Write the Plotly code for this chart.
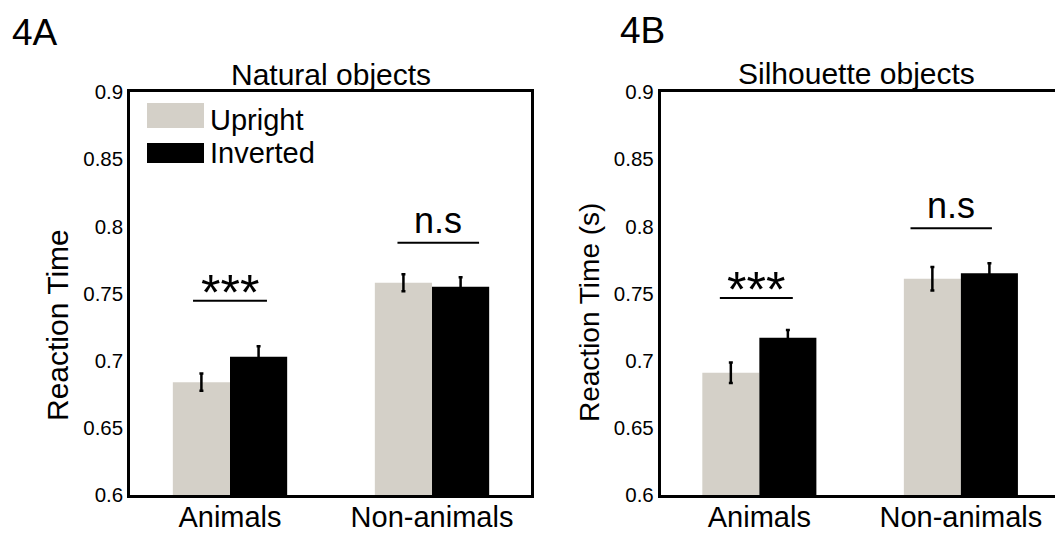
import plotly.graph_objects as go

# ---------------- data ----------------
categories = ["Animals", "Non-animals"]
series_names = ["Upright", "Inverted"]

natural_upright = [0.684, 0.758]
natural_inverted = [0.703, 0.755]
natural_upright_err = [0.0064, 0.0064]
natural_inverted_err = [0.0078, 0.0071]

silhouette_upright = [0.691, 0.761]
silhouette_inverted = [0.717, 0.765]
silhouette_upright_err = [0.0076, 0.0088]
silhouette_inverted_err = [0.0058, 0.0076]

y_ticks = [0.6, 0.65, 0.7, 0.75, 0.8, 0.85, 0.9]
y_ticktext = ["0.6", "0.65", "0.7", "0.75", "0.8", "0.85", "0.9"]

panel_titles = ["Natural objects", "Silhouette objects"]
panel_labels = ["4A", "4B"]
y_titles = ["Reaction Time", "Reaction Time (s)"]

# significance: (category index, label, line y, x0 offset, x1 offset)
sig_natural = [(0, "***", 0.7446, -0.183, 0.183), (1, "n.s", 0.7878, -0.171, 0.233)]
sig_silhouette = [(0, "***", 0.7466, -0.196, 0.166), (1, "n.s", 0.7985, -0.25, 0.154)]

# ---------------- style ----------------
W, H = 1055, 534
FONT = "Liberation Sans, Arial, sans-serif"
UPRIGHT_COLOR = "#D4D0C8"
INVERTED_COLOR = "#000000"


def px(x):
    return x / W


def py(y):
    return 1 - y / H


xpos = list(range(len(categories)))

fig = go.Figure()

panels = [
    ("x", "y", natural_upright, natural_inverted, natural_upright_err, natural_inverted_err),
    ("x2", "y2", silhouette_upright, silhouette_inverted, silhouette_upright_err, silhouette_inverted_err),
]
for xa, ya, up, inv, upe, inve in panels:
    fig.add_trace(go.Bar(
        x=xpos, y=up, name=series_names[0], xaxis=xa, yaxis=ya,
        marker=dict(color=UPRIGHT_COLOR, line=dict(width=0)),
        error_y=dict(type="data", array=upe, color="black", thickness=2.5, width=2),
        showlegend=False, offsetgroup="a",
    ))
    fig.add_trace(go.Bar(
        x=xpos, y=inv, name=series_names[1], xaxis=xa, yaxis=ya,
        marker=dict(color=INVERTED_COLOR, line=dict(width=0)),
        error_y=dict(type="data", array=inve, color="black", thickness=2.5, width=2),
        showlegend=False, offsetgroup="b",
    ))

ydom = [py(495), py(92)]
common_x = dict(
    tickmode="array", tickvals=xpos, ticktext=categories,
    tickfont=dict(family=FONT, size=29, color="black"),
    showline=True, linecolor="black", linewidth=2.5, mirror=True,
    ticks="", showgrid=False, zeroline=False, automargin=False,
    ticklabelstandoff=-6,
)
common_y = dict(
    range=[0.6, 0.9], tickmode="array", tickvals=y_ticks, ticktext=y_ticktext,
    tickfont=dict(family=FONT, size=20.5, color="black"),
    showline=True, linecolor="black", linewidth=2.5,
    ticks="", showgrid=False, zeroline=False, automargin=False,
)

fig.update_layout(
    template="none",
    width=W, height=H, autosize=False,
    margin=dict(l=0, r=0, t=0, b=0, pad=0),
    paper_bgcolor="white", plot_bgcolor="white",
    barmode="group", bargap=0.434, bargroupgap=0,
    showlegend=False,
    font=dict(family=FONT, color="black"),
    xaxis=dict(domain=[px(130), px(531)], range=[-0.495, 1.49], anchor="y", **common_x),
    yaxis=dict(domain=ydom, anchor="x", mirror=True, **common_y),
    xaxis2=dict(domain=[px(660.6), 1.0], range=[-0.49, 1.467], anchor="y2", **common_x),
    yaxis2=dict(domain=ydom, anchor="x2", mirror=False, **common_y),
)

annotations = []
shapes = []


def text_mid(baseline, size):
    return baseline - 0.3465 * size


# panel letters
annotations.append(dict(text=panel_labels[0], x=px(10), y=py(text_mid(45, 37)), xref="paper", yref="paper",
                        xanchor="left", yanchor="middle", showarrow=False, font=dict(size=37)))
annotations.append(dict(text=panel_labels[1], x=px(618), y=py(text_mid(43, 37)), xref="paper", yref="paper",
                        xanchor="left", yanchor="middle", showarrow=False, font=dict(size=37)))
# panel titles
annotations.append(dict(text=panel_titles[0], x=px(330.7), y=py(text_mid(85, 30)), xref="paper", yref="paper",
                        xanchor="center", yanchor="middle", showarrow=False, font=dict(size=30)))
annotations.append(dict(text=panel_titles[1], x=px(856.8), y=py(text_mid(84, 30)), xref="paper", yref="paper",
                        xanchor="center", yanchor="middle", showarrow=False, font=dict(size=30)))
# y titles
annotations.append(dict(text=y_titles[0], x=px(57), y=py(325), xref="paper", yref="paper", textangle=-90,
                        xanchor="center", yanchor="middle", showarrow=False, font=dict(size=30)))
annotations.append(dict(text=y_titles[1], x=px(589), y=py(313), xref="paper", yref="paper", textangle=-90,
                        xanchor="center", yanchor="middle", showarrow=False, font=dict(size=28)))

# legend (drawn in the first panel)
shapes.append(dict(type="rect", xref="paper", yref="paper", x0=px(147), x1=px(204), y0=py(128), y1=py(103),
                   fillcolor=UPRIGHT_COLOR, line=dict(width=0)))
shapes.append(dict(type="rect", xref="paper", yref="paper", x0=px(147), x1=px(204), y0=py(163), y1=py(143),
                   fillcolor=INVERTED_COLOR, line=dict(width=0)))
annotations.append(dict(text=series_names[0], x=px(208), y=py(text_mid(130, 29)), xref="paper", yref="paper",
                        xanchor="left", yanchor="middle", showarrow=False, font=dict(size=29)))
annotations.append(dict(text=series_names[1], x=px(208), y=py(text_mid(162.7, 29)), xref="paper", yref="paper",
                        xanchor="left", yanchor="middle", showarrow=False, font=dict(size=29)))

# significance markers
for (xa, ya), sigs in [(("x", "y"), sig_natural), (("x2", "y2"), sig_silhouette)]:
    for ci, label, ly, o0, o1 in sigs:
        shapes.append(dict(type="line", xref=xa, yref=ya, x0=ci + o0, x1=ci + o1, y0=ly, y1=ly,
                           line=dict(color="black", width=2)))
        cx = ci + (o0 + o1) / 2
        if label == "***":
            annotations.append(dict(text=label, x=cx, y=ly, xref=xa, yref=ya, xanchor="center",
                                    yanchor="bottom", yshift=-22, showarrow=False, font=dict(size=50)))
        else:
            annotations.append(dict(text=label, x=cx, y=ly, xref=xa, yref=ya, xanchor="center",
                                    yanchor="bottom", yshift=0, showarrow=False, font=dict(size=36)))

fig.update_layout(annotations=annotations, shapes=shapes)

fig.write_html("out.html", config={"displayModeBar": False},
               post_script="document.body.style.margin='0';")
